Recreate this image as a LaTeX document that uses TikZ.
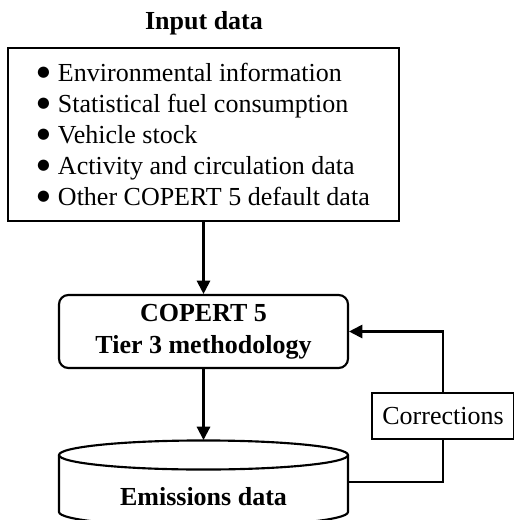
\documentclass[tikz,border=0pt]{standalone}
\usepackage{fontspec}
\setmainfont{Liberation Serif}
\newfontfamily\dotfont{DejaVu Sans}
\usetikzlibrary{arrows.meta}

\newcommand{\itemdot}{\raisebox{4pt}{\dotfont\fontsize{11}{11}\selectfont ●}\hspace{6pt}}

\begin{document}
\begin{tikzpicture}[
    x=0.75pt, y=-0.75pt,
    every node/.style={font=\fontsize{19.5}{23.25}\selectfont},
    heading/.style={font=\fontsize{19.5}{24}\selectfont\bfseries},
    framed/.style={draw, line width=1.6pt},
    wire/.style={draw, line width=1.6pt},
    flow/.style={draw, line width=1.6pt, -{Triangle[length=10pt, width=10pt]}},
]
\useasboundingbox (0,0) rectangle (513,520);

% Entradas
\node[heading] (title) at (204,23) {Input data};
\node[framed, align=left, minimum width=293.25pt, minimum height=129.75pt] (inputs) at (203.5,134.5)
    {\itemdot Environmental information\\
     \itemdot Statistical fuel consumption\\
     \itemdot Vehicle stock\\
     \itemdot Activity and circulation data\\
     \itemdot Other COPERT 5 default data};

% Metodologia
\node[framed, heading, rounded corners=7pt, align=center, minimum width=216.75pt, minimum height=54.75pt] (copert) at (203.5,331.5)
    {COPERT 5\\Tier 3 methodology};

% Base de dados
\draw[wire] (59,455) -- (59,512) arc[start angle=180, end angle=360, x radius=108.375pt, y radius=10.9pt] -- (348,455);
\draw[wire] (203.5,455) ellipse[x radius=108.375pt, y radius=10.9pt];
\node[heading] (emissions) at (203.5,497) {Emissions data};
\coordinate (dbtop) at (203.5,440);
\coordinate (dbright) at (348,482);

% Correcoes
\node[framed, minimum width=106.5pt, minimum height=34.5pt] (corr) at (443,416) {Corrections};

% Ligacoes
\draw[flow] (inputs.south) -- (copert.north);
\draw[flow] (copert.south) -- (dbtop);
\draw[wire] (dbright) -| (corr.south);
\draw[flow] (corr.north) |- (copert.east);

\end{tikzpicture}
\end{document}
